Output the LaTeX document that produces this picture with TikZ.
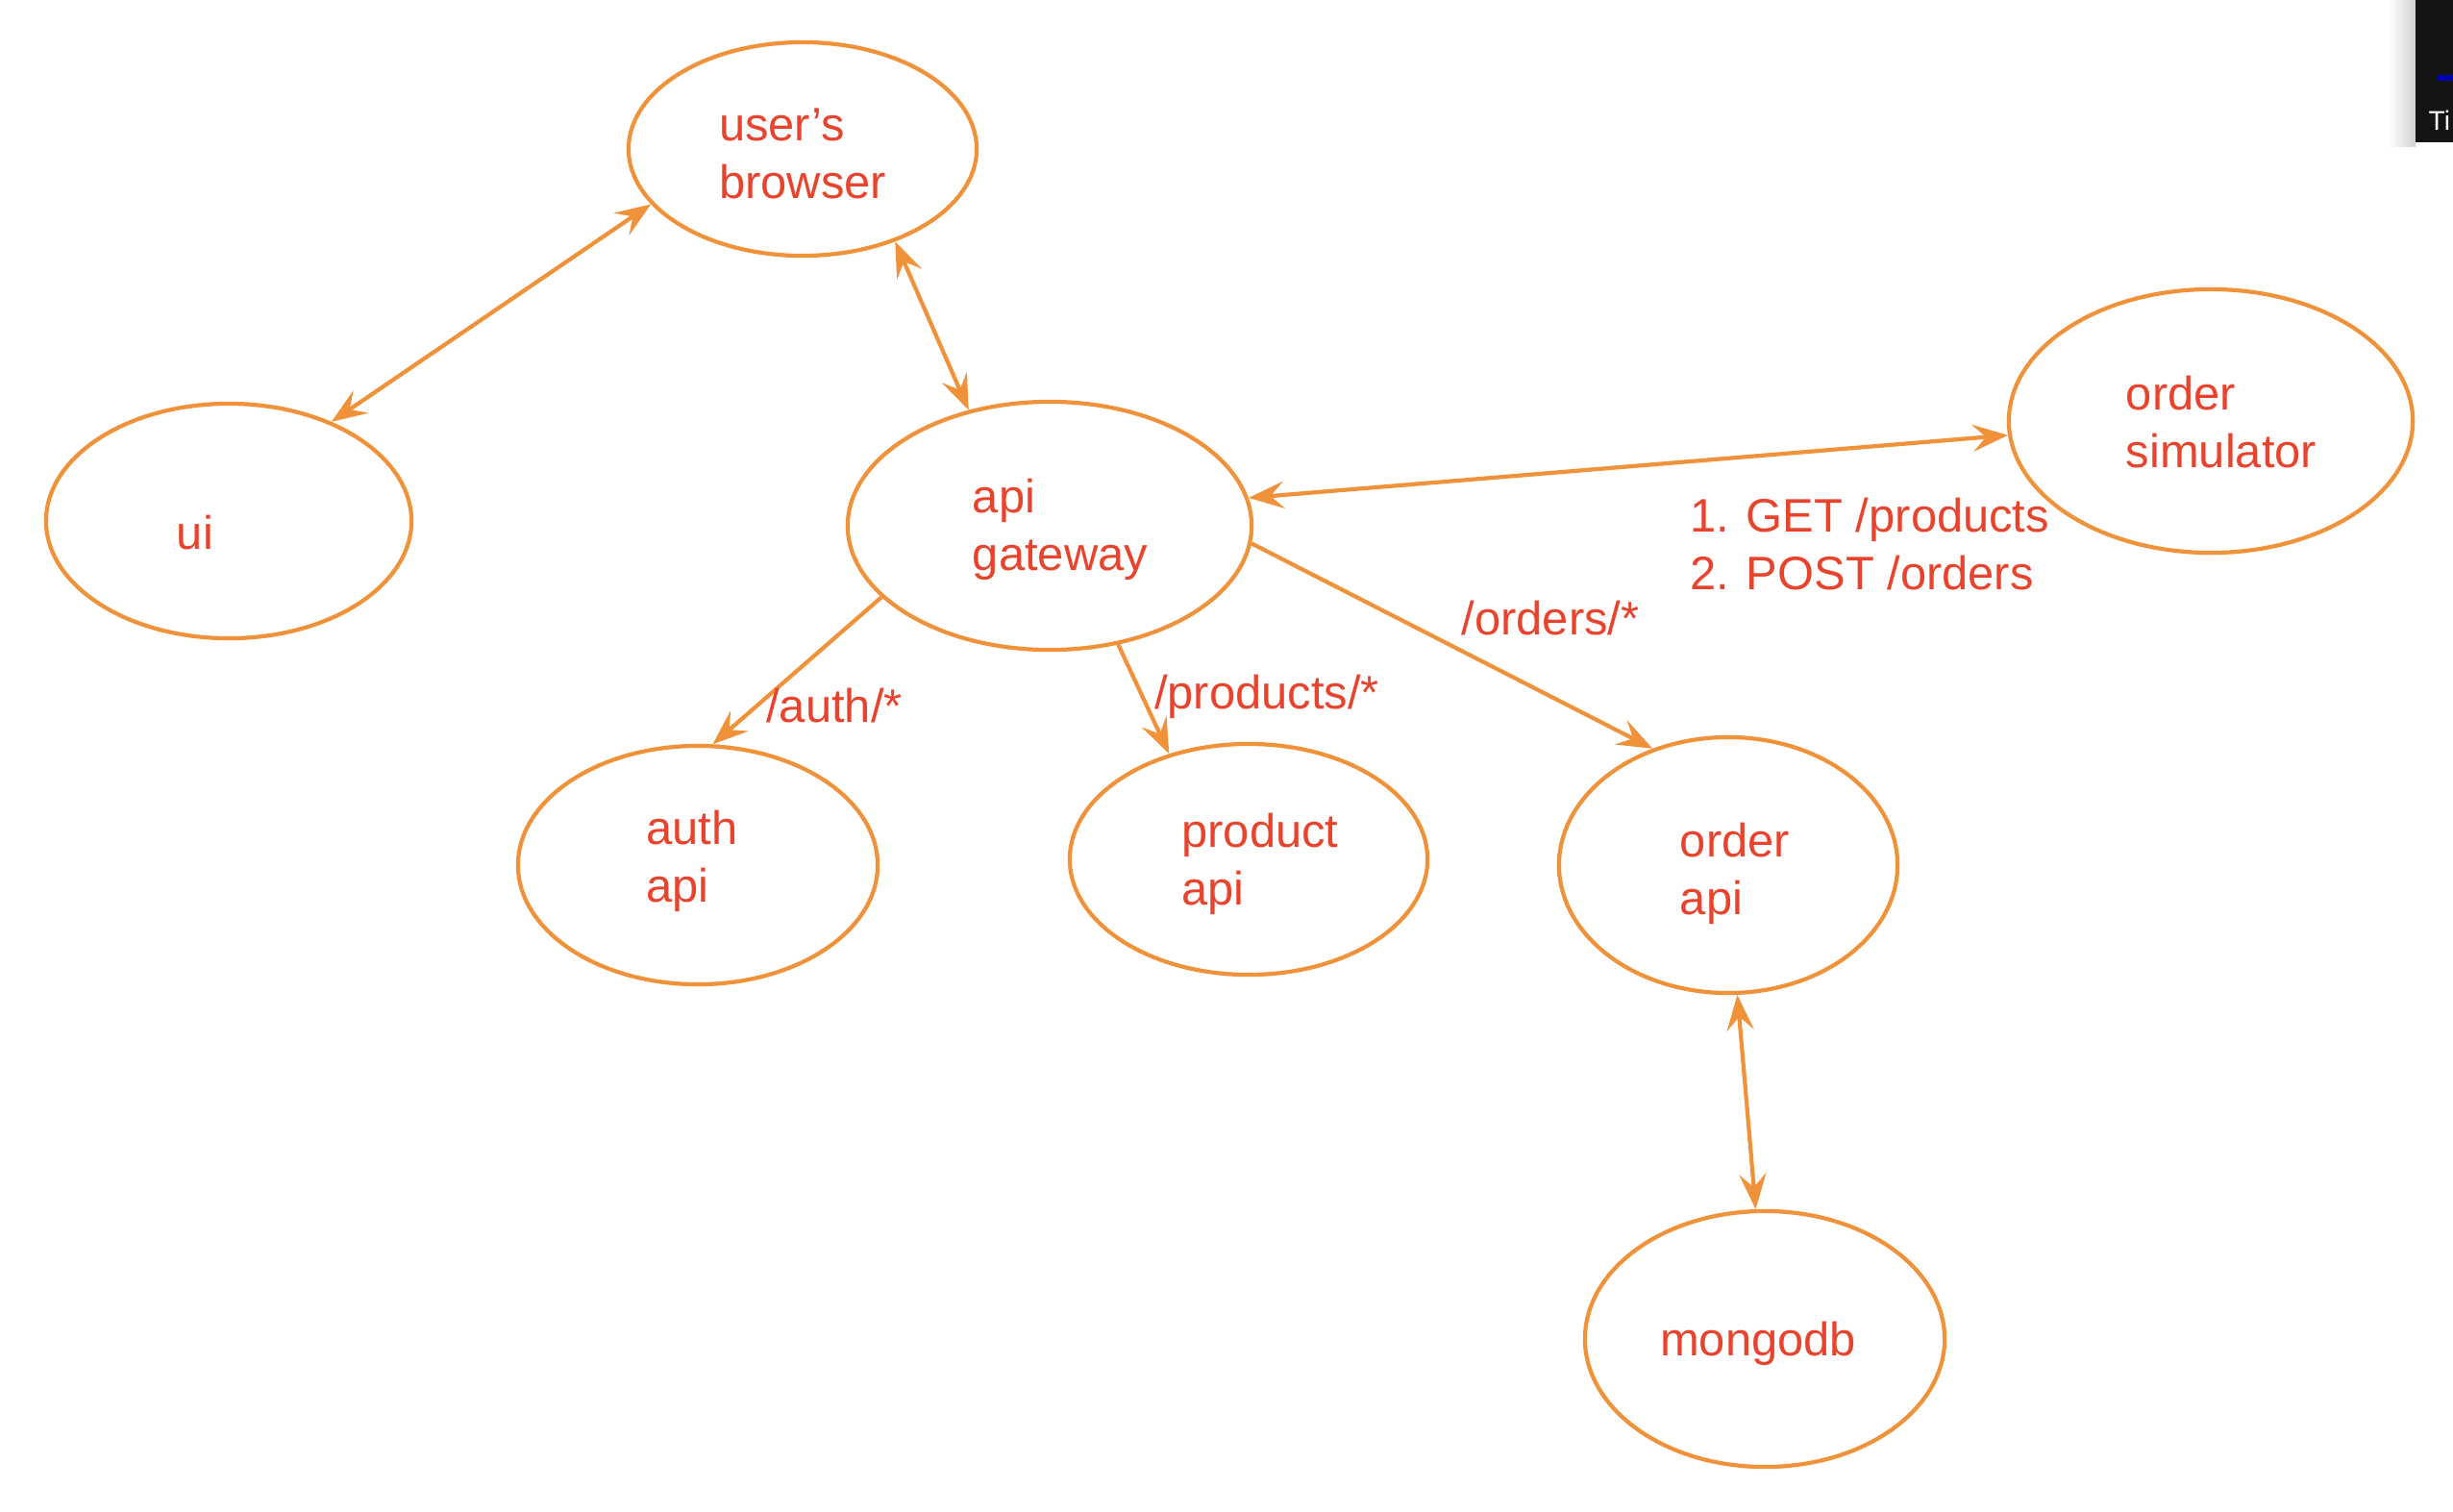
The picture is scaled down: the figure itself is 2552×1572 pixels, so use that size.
\documentclass[tikz,border=0pt]{standalone}
\usepackage{fontspec}
\setmainfont{Liberation Sans}
\usetikzlibrary{shapes.geometric,arrows.meta}
\definecolor{lineor}{RGB}{240,146,58}
\definecolor{txtred}{RGB}{232,67,45}
\tikzset{
  svc/.style={ellipse, draw=lineor, line width=1.2pt, inner sep=0pt},
  lbl/.style={text=txtred, font=\fontsize{13.9pt}{17.1pt}\selectfont, align=left, inner sep=0pt, yshift=-0.05cm},
  conn/.style={draw=lineor, line width=1.2pt},
  tip/.tip={Stealth[length=10.5pt, width=8pt, inset=4pt]},
  both/.style={conn, tip-tip},
  one/.style={conn, -tip},
}
\begin{document}
\begin{tikzpicture}[x=0.01cm, y=-0.01cm]
\useasboundingbox (0,0) rectangle (2552,1572);
% corner artefact (screenshot fragment)
\shade[left color=white, right color=black!18] (2485,0) rectangle (2513,152);
\fill[black!92] (2513,0) rectangle (2552,148);
\fill[blue!70!black] (2536,78) rectangle (2552,84);
\node[anchor=west, text=white, font=\fontsize{8pt}{9pt}\selectfont, inner sep=0pt] (ti) at (2526,125) {Ti};

% ellipses
\node[svc, minimum width=3.62cm, minimum height=2.22cm] (browser) at (835,155) {};
\node[svc, minimum width=3.80cm, minimum height=2.44cm] (ui) at (238,542) {};
\node[svc, minimum width=4.20cm, minimum height=2.58cm] (gw) at (1092,547) {};
\node[svc, minimum width=4.20cm, minimum height=2.74cm] (sim) at (2300,438) {};
\node[svc, minimum width=3.74cm, minimum height=2.48cm] (auth) at (726,900) {};
\node[svc, minimum width=3.72cm, minimum height=2.40cm] (prod) at (1299,894) {};
\node[svc, minimum width=3.52cm, minimum height=2.66cm] (order) at (1798,900) {};
\node[svc, minimum width=3.74cm, minimum height=2.66cm] (mongo) at (1836,1393) {};

% texts
\node[lbl] (tbrowser) at (835,155) {user’s\\browser};
\node[lbl] (tui) at (203,549) {ui};
\node[lbl] (tgw) at (1103,546) {api\\gateway};
\node[lbl] (tsim) at (2311,434) {order\\simulator};
\node[lbl] (tauth) at (720,891) {auth\\api};
\node[lbl] (tprod) at (1311,894) {product\\api};
\node[lbl] (torder) at (1805,904) {order\\api};
\node[lbl] (tmongo) at (1829,1393) {mongodb};

% connectors
\draw[both] (ui.44) -- (browser.200);
\draw[both] (browser.315) -- (gw.125);
\draw[both] (gw.8) -- (sim.184);
\draw[one] (gw.203) -- (auth.83);
\draw[one] (gw.300) -- (prod.127);
\draw[one] (gw.355) -- (order.123);
\draw[both] (order.274) -- (mongo.94);

% edge labels
\node[lbl] (lauth) at (868,729) {/auth/*};
\node[lbl] (lprod) at (1318,720) {/products/*};
\node[lbl] (lorder) at (1613,638) {/orders/*};
\node[lbl] (lsim) at (1945,561) {1. GET /products\\2. POST /orders};
\end{tikzpicture}
\end{document}
